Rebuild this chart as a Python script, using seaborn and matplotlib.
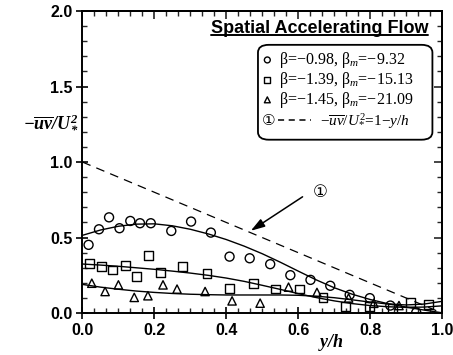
import numpy as np
import pandas as pd
import seaborn as sns
import matplotlib
matplotlib.use("Agg")
import matplotlib.pyplot as plt
from matplotlib.ticker import MultipleLocator, AutoMinorLocator, FormatStrFormatter
from matplotlib.patches import FancyBboxPatch

# ---- measured Reynolds shear stress, three accelerating-flow runs ----
circ_x = [0.017, 0.046, 0.074, 0.103, 0.133, 0.160, 0.190, 0.247, 0.302, 0.357,
          0.409, 0.465, 0.522, 0.578, 0.634, 0.689, 0.743, 0.799, 0.856, 0.928]
circ_y = [0.452, 0.555, 0.634, 0.562, 0.610, 0.595, 0.595, 0.544, 0.606, 0.533,
          0.374, 0.363, 0.324, 0.251, 0.220, 0.181, 0.121, 0.099, 0.050, 0.004]

sq_x = [0.019, 0.054, 0.084, 0.119, 0.151, 0.184, 0.218, 0.279, 0.346, 0.409,
        0.476, 0.536, 0.604, 0.669, 0.731, 0.799, 0.862, 0.912, 0.962]
sq_y = [0.326, 0.308, 0.286, 0.313, 0.242, 0.379, 0.271, 0.308, 0.264, 0.165,
        0.198, 0.159, 0.159, 0.105, 0.044, 0.046, 0.030, 0.068, 0.058]

tri_x = [0.026, 0.063, 0.100, 0.144, 0.182, 0.224, 0.263, 0.341, 0.416, 0.494,
         0.573, 0.652, 0.740, 0.810, 0.880]
tri_y = [0.198, 0.143, 0.187, 0.104, 0.115, 0.187, 0.159, 0.143, 0.081, 0.066,
         0.172, 0.137, 0.100, 0.065, 0.050]

# ---- fitted curves ----
fit_x = [0.00, 0.05, 0.10, 0.15, 0.20, 0.25, 0.30, 0.35, 0.40, 0.45, 0.50,
         0.55, 0.60, 0.65, 0.70, 0.75, 0.80, 0.85, 0.90, 0.95, 1.00]
fit_circ = [0.515, 0.550, 0.575, 0.589, 0.591, 0.578, 0.555, 0.524, 0.487, 0.443, 0.393,
            0.337, 0.278, 0.220, 0.168, 0.125, 0.090, 0.062, 0.040, 0.020, 0.002]
fit_sq = [0.325, 0.318, 0.310, 0.300, 0.290, 0.278, 0.265, 0.250, 0.232, 0.210, 0.184,
          0.157, 0.129, 0.103, 0.081, 0.063, 0.050, 0.042, 0.038, 0.040, 0.048]
fit_tri = [0.190, 0.172, 0.158, 0.146, 0.137, 0.130, 0.125, 0.122, 0.120, 0.120, 0.120,
           0.120, 0.118, 0.112, 0.102, 0.088, 0.073, 0.060, 0.054, 0.060, 0.078]

# ---- linear total-stress line  -uv/U*^2 = 1 - y/h ----
lin_x = [0.0, 1.0]
lin_y = [1.0, 0.0]

legend_labels = ["β=−0.98, β$_{m}$=−9.32",
                 "β=−1.39, β$_{m}$=−15.13",
                 "β=−1.45, β$_{m}$=−21.09"]
title = "Spatial Accelerating Flow"

sns.set_theme(style="ticks")
plt.rcParams["font.family"] = ["Liberation Sans", "DejaVu Sans"]
plt.rcParams["mathtext.fontset"] = "custom"
plt.rcParams["mathtext.rm"] = "Liberation Serif"
plt.rcParams["mathtext.it"] = "Liberation Serif:italic"
plt.rcParams["mathtext.bf"] = "Liberation Serif:bold:italic"

fig = plt.figure(figsize=(4.53, 3.55), dpi=100)
ax = fig.add_axes([0.182, 0.118, 0.794, 0.851])

pts = pd.concat([
    pd.DataFrame({"x": circ_x, "y": circ_y, "run": "c"}),
    pd.DataFrame({"x": sq_x, "y": sq_y, "run": "s"}),
    pd.DataFrame({"x": tri_x, "y": tri_y, "run": "t"}),
])
markers = {"c": ("o", 42), "s": ("s", 40), "t": ("^", 36)}
for run, (m, sz) in markers.items():
    sub = pts[pts["run"] == run]
    sns.scatterplot(data=sub, x="x", y="y", marker=m, s=sz, facecolor="none",
                    edgecolor="black", linewidth=1.0, ax=ax, zorder=3, legend=False)

for fy in (fit_circ, fit_sq, fit_tri):
    sns.lineplot(x=fit_x, y=fy, color="black", lw=1.0, ax=ax, zorder=2)
sns.lineplot(x=lin_x, y=lin_y, color="black", lw=0.9, ax=ax, zorder=2,
             dashes=False, linestyle=(0, (7, 5)))

ax.set_xlim(0, 1.0)
ax.set_ylim(0, 2.0)
ax.xaxis.set_major_locator(MultipleLocator(0.2))
ax.xaxis.set_minor_locator(AutoMinorLocator(6))
ax.yaxis.set_major_locator(MultipleLocator(0.5))
ax.yaxis.set_minor_locator(AutoMinorLocator(5))
ax.xaxis.set_major_formatter(FormatStrFormatter("%.1f"))
ax.yaxis.set_major_formatter(FormatStrFormatter("%.1f"))
ax.set_xlabel("")
ax.set_ylabel("")
for sp in ax.spines.values():
    sp.set_linewidth(1.4)
    sp.set_color("black")
ax.tick_params(which="major", direction="inout", length=8, width=1.2,
               labelsize=11.5, colors="black", pad=3)
ax.tick_params(which="minor", direction="in", length=3.5, width=1.0)
for lab in ax.get_xticklabels() + ax.get_yticklabels():
    lab.set_fontweight("bold")

# right/top ticks pointing inward only
for side in ("top", "right"):
    sec = ax.secondary_xaxis("top") if side == "top" else ax.secondary_yaxis("right")
    axis = sec.xaxis if side == "top" else sec.yaxis
    axis.set_major_locator(MultipleLocator(0.2 if side == "top" else 0.5))
    axis.set_minor_locator(AutoMinorLocator(6 if side == "top" else 5))
    sec.tick_params(which="major", direction="in", length=6, width=1.2, labelsize=0)
    sec.tick_params(which="minor", direction="in", length=3.5, width=1.0)
    axis.set_ticklabels([])
    sec.spines[side].set_linewidth(1.4)

# axis labels
ax.text(-0.01, 0.632, r"$\mathbf{-\overline{uv}/U_{*}^{2}}$", transform=ax.transAxes,
        ha="right", va="center", fontsize=13, color="black")
ax.text(0.69, -0.098, r"$\mathbf{y/h}$", transform=ax.transAxes,
        ha="center", va="center", fontsize=13, color="black")

# title with underline
t = ax.text(0.962, 0.928, title, transform=ax.transAxes, ha="right", va="baseline",
            fontsize=13, fontweight="bold", color="black")
fig.canvas.draw()
bb = t.get_window_extent().transformed(ax.transAxes.inverted())
ax.plot([bb.x0, bb.x1], [0.919, 0.919], color="black", lw=1.4,
        transform=ax.transAxes, clip_on=False)

# legend box
box = FancyBboxPatch((0.488, 0.574), 0.485, 0.314, transform=ax.transAxes,
                     boxstyle="round,pad=0,rounding_size=0.03",
                     facecolor="white", edgecolor="black", lw=1.3, zorder=4,
                     mutation_aspect=0.85)
ax.add_patch(box)
rows = [0.838, 0.772, 0.706]
for (m, lab, ry) in zip(["o", "s", "^"], legend_labels, rows):
    ax.scatter([0.514], [ry], marker=m, s=18, facecolor="none", edgecolor="black",
               linewidth=1.0, transform=ax.transAxes, zorder=5)
    ax.text(0.546, ry, lab, transform=ax.transAxes, ha="left", va="center",
            fontsize=11.5, family="Liberation Serif", color="black", zorder=5)
ry = 0.638
ax.text(0.517, ry, "①", transform=ax.transAxes, ha="center", va="center",
        fontsize=11, family=["DejaVu Sans", "Noto Sans CJK SC"], color="black", zorder=5)
ax.plot([0.543, 0.635], [ry, ry], color="black", lw=1.1, linestyle=(0, (4, 3)),
        transform=ax.transAxes, zorder=5)
ax.text(0.660, ry, r"$-\overline{uv}/U_{*}^{2}$=1−$y/h$", transform=ax.transAxes,
        ha="left", va="center", fontsize=11, family="Liberation Serif",
        color="black", zorder=5)

# callout for the linear line
ax.text(0.66, 0.80, "①", ha="center", va="center", fontsize=12,
        family=["DejaVu Sans", "Noto Sans CJK SC"], color="black")
ax.annotate("", xy=(0.468, 0.545), xytext=(0.612, 0.77),
            arrowprops=dict(arrowstyle="-|>,head_length=0.7,head_width=0.22",
                            color="black", lw=1.1, shrinkA=0, shrinkB=0))

fig.savefig("out.png", dpi=100)
